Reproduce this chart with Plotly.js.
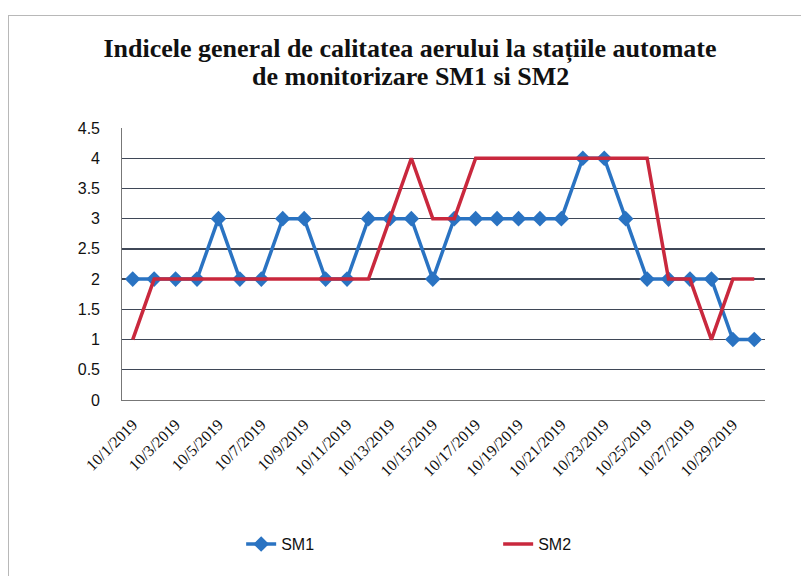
<!DOCTYPE html>
<html>
<head>
<meta charset="utf-8">
<script src="https://cdn.plot.ly/plotly-3.0.1.min.js"></script>
<style>
html,body{margin:0;padding:0;background:#fff;}
#chart{width:801px;height:576px;position:absolute;left:0;top:0;}
#frame{position:absolute;left:8px;top:15px;width:820px;height:600px;border:1px solid #b8b8b8;pointer-events:none;}
</style>
</head>
<body>
<div id="chart"></div>
<div id="frame"></div>
<script>
const dates = ["10/1/2019","10/2/2019","10/3/2019","10/4/2019","10/5/2019","10/6/2019","10/7/2019","10/8/2019","10/9/2019","10/10/2019",
"10/11/2019","10/12/2019","10/13/2019","10/14/2019","10/15/2019","10/16/2019","10/17/2019","10/18/2019","10/19/2019","10/20/2019",
"10/21/2019","10/22/2019","10/23/2019","10/24/2019","10/25/2019","10/26/2019","10/27/2019","10/28/2019","10/29/2019","10/30/2019"];
const tickLabels = ["10/1/2019","10/3/2019","10/5/2019","10/7/2019","10/9/2019","10/11/2019","10/13/2019","10/15/2019","10/17/2019","10/19/2019","10/21/2019","10/23/2019","10/25/2019","10/27/2019","10/29/2019"];
const sm1 = [2,2,2,2,3,2,2,3,3,2,2,3,3,3,2,3,3,3,3,3,3,4,4,3,2,2,2,2,1,1];
const sm2 = [1,2,2,2,2,2,2,2,2,2,2,2,3,4,3,3,4,4,4,4,4,4,4,4,4,2,2,1,2,2];
const titleLine1 = "Indicele general de calitatea aerului la stațiile automate";
const titleLine2 = "de monitorizare SM1 si SM2";

const titleFont = {family: "Liberation Serif, Times New Roman, serif", size: 26, color: "#111"};

const traces = [
  {x: dates, y: sm1, name: "SM1", type: "scatter", mode: "lines+markers",
   line: {color: "#2a73c2", width: 3.5}, marker: {symbol: "diamond", size: 12, color: "#2a73c2"}},
  {x: dates, y: sm2, name: "SM2", type: "scatter", mode: "lines",
   line: {color: "#c9283d", width: 3.5}}
];

const layout = {
  width: 801, height: 576,
  margin: {l: 122, r: 36, t: 128, b: 176},
  paper_bgcolor: "#fff", plot_bgcolor: "#fff",
  title: {text: "<b>" + titleLine1 + "</b>", font: titleFont,
          x: 410/801, xanchor: "center", xref: "container", yref: "container", y: 1 - 48/576, yanchor: "middle"},
  annotations: [
    {text: "<b>" + titleLine2 + "</b>", font: titleFont, showarrow: false,
     xref: "paper", yref: "paper", x: (410-122)/643, xanchor: "center", y: (400-76)/272, yanchor: "middle"}
  ],
  xaxis: {type: "category", categoryorder: "array", categoryarray: dates,
          range: [-0.5, 29.5], tickmode: "array", tickvals: tickLabels, ticktext: tickLabels,
          tickangle: -45, ticklabelstandoff: 8,
          tickfont: {family: "Liberation Serif, Times New Roman, serif", size: 16, color: "#111"},
          showgrid: false, showline: true, linecolor: "#777", linewidth: 1, ticks: "", zeroline: false},
  yaxis: {range: [0, 4.5], dtick: 0.5, showgrid: true, gridcolor: "#3f4757", gridwidth: 1.4,
          showline: true, linecolor: "#777", linewidth: 1, zeroline: false, ticks: "",
          tickfont: {family: "Liberation Sans, Arial, sans-serif", size: 16, color: "#111"}, ticksuffix: "    "},
  showlegend: true,
  legend: {orientation: "h", x: 0.585, xanchor: "center", y: -0.53, yanchor: "middle",
           entrywidth: 212, font: {family: "Liberation Sans, Arial, sans-serif", size: 16, color: "#111"}}
};
Plotly.newPlot("chart", traces, layout, {displayModeBar: false, staticPlot: true});
</script>
</body>
</html>
